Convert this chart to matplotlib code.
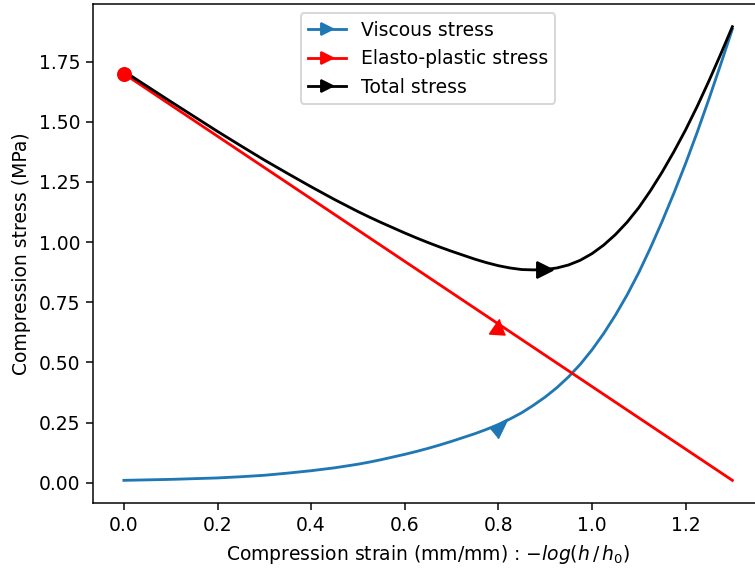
"""
Compression stress vs strain: viscous, elasto-plastic and total stress curves
"""

import matplotlib
matplotlib.use("Agg")
import matplotlib.pyplot as plt
from matplotlib.lines import Line2D

# strain values (mm/mm)
strain = [0.000, 0.050, 0.100, 0.150, 0.200, 0.250, 0.300, 0.350, 0.400, 0.450,
          0.500, 0.525, 0.550, 0.575, 0.600, 0.625, 0.650, 0.675, 0.700, 0.725,
          0.750, 0.775, 0.800, 0.825, 0.850, 0.875, 0.900, 0.925, 0.950, 0.975,
          1.000, 1.025, 1.050, 1.075, 1.100, 1.125, 1.150, 1.175, 1.200, 1.225,
          1.250, 1.275, 1.300]

viscous = [0.010, 0.012, 0.014, 0.017, 0.020, 0.025, 0.031, 0.040, 0.050, 0.062,
           0.077, 0.086, 0.096, 0.107, 0.118, 0.130, 0.143, 0.157, 0.172, 0.188,
           0.204, 0.222, 0.242, 0.265, 0.291, 0.322, 0.356, 0.395, 0.440, 0.492,
           0.552, 0.620, 0.696, 0.780, 0.873, 0.976, 1.086, 1.203, 1.326, 1.457,
           1.595, 1.738, 1.885]

elasto = [1.700, 1.635, 1.570, 1.505, 1.440, 1.375, 1.310, 1.245, 1.180, 1.115,
          1.050, 1.0175, 0.985, 0.9525, 0.920, 0.8875, 0.855, 0.8225, 0.790, 0.7575,
          0.725, 0.6925, 0.660, 0.6275, 0.595, 0.5625, 0.530, 0.4975, 0.465, 0.4325,
          0.400, 0.3675, 0.335, 0.3025, 0.270, 0.2375, 0.205, 0.1725, 0.140, 0.1075,
          0.075, 0.0425, 0.010]

total = [1.710, 1.647, 1.584, 1.522, 1.460, 1.400, 1.341, 1.285, 1.230, 1.177,
         1.127, 1.1035, 1.081, 1.0595, 1.038, 1.0175, 0.998, 0.9795, 0.962, 0.9455,
         0.929, 0.9145, 0.902, 0.8925, 0.886, 0.8845, 0.886, 0.8925, 0.905, 0.9245,
         0.952, 0.9875, 1.031, 1.0825, 1.143, 1.2135, 1.291, 1.3755, 1.466, 1.5645,
         1.670, 1.7805, 1.895]

# strain where the direction marker sits on each curve
arrow_at = {"viscous": 0.80, "elasto": 0.80, "total": 0.90}

BLUE = "#1f77b4"

# marker outlines (shape only, normalised by matplotlib); they hang below the line
viscous_arrow = [(-24, -12), (27, 18), (-1, -40)]
elasto_arrow = [(4, 15), (-26, -28), (21, -31)]


def idx(x):
    return min(range(len(strain)), key=lambda k: abs(strain[k] - x))


DPI = 135
fig = plt.figure(figsize=(755 / DPI, 570 / DPI), dpi=DPI)
ax = fig.add_axes([0.1238, 0.1175, 0.8865, 0.8754])

ax.plot(strain, viscous, color=BLUE, linewidth=1.5)
ax.plot(strain, elasto, color="red", linewidth=1.5)
ax.plot(strain, total, color="black", linewidth=1.5)

# start point
ax.plot(strain[0], elasto[0], "o", color="red", markersize=7)

# direction markers
i = idx(arrow_at["viscous"])
ax.plot(strain[i], viscous[i], marker=viscous_arrow, color=BLUE, markersize=14,
        linestyle="none")
i = idx(arrow_at["elasto"])
ax.plot(strain[i], elasto[i], marker=elasto_arrow, color="red", markersize=11,
        linestyle="none")
i = idx(arrow_at["total"])
ax.plot(strain[i], total[i], marker=">", color="black", markersize=9, linestyle="none")

handles = [
    Line2D([], [], color=BLUE, marker=">", linewidth=1.5),
    Line2D([], [], color="red", marker=">", linewidth=1.5),
    Line2D([], [], color="black", marker=">", linewidth=1.5),
]
ax.legend(handles, ["Viscous stress", "Elasto-plastic stress", "Total stress"],
          loc="upper center")

ax.set_xlim(-0.065, 1.365)
ax.set_xlabel(r"Compression strain (mm/mm) : $-log(h\,/\,h_0)$")
ax.set_ylabel("Compression stress (MPa)")

fig.savefig("out.png", dpi=DPI)
